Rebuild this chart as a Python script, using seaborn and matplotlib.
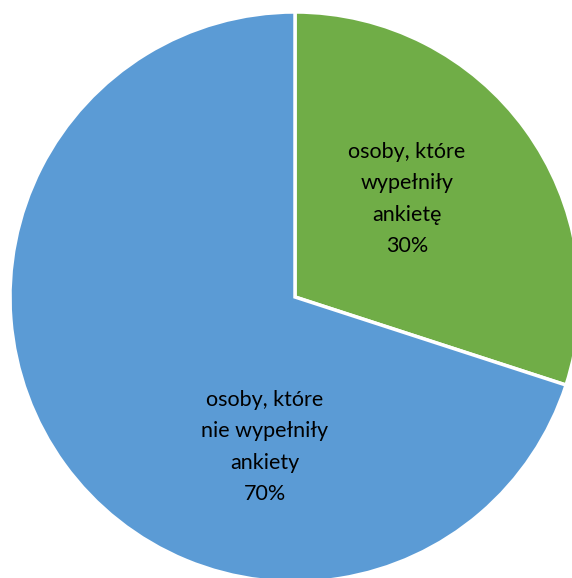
import matplotlib
matplotlib.use("Agg")
import matplotlib.pyplot as plt
import seaborn as sns

labels = ["osoby, które\nwypełniły\nankietę", "osoby, które\nnie wypełniły\nankiety"]
values = [30, 70]
colors = ["#70AD47", "#5B9BD5"]

sns.set_style("white")
plt.rcParams["font.family"] = ["Lato", "DejaVu Sans"]

W, H = 572, 578
fig = plt.figure(figsize=(W / 100, H / 100), dpi=100)
cx, cy, r = 295, 297, 285
ax = fig.add_axes([(cx - r) / W, (H - cy - r) / H, 2 * r / W, 2 * r / H])

wedges, _ = ax.pie(values, colors=colors, startangle=90, counterclock=False,
                   radius=1, wedgeprops=dict(edgecolor="white", linewidth=2.5))
ax.set_xlim(-1, 1)
ax.set_ylim(-1, 1)
ax.axis("off")

# label positions (relative to radius)
pos = [((407 - cx) / r, (cy - 199) / r), ((265 - cx) / r, (cy - 447) / r)]
for lab, v, (x, y) in zip(labels, values, pos):
    ax.text(x, y, f"{lab}\n{v}%", ha="center", va="center", fontsize=15.5,
            linespacing=1.72, color="black")

fig.savefig("out.png", dpi=100)
